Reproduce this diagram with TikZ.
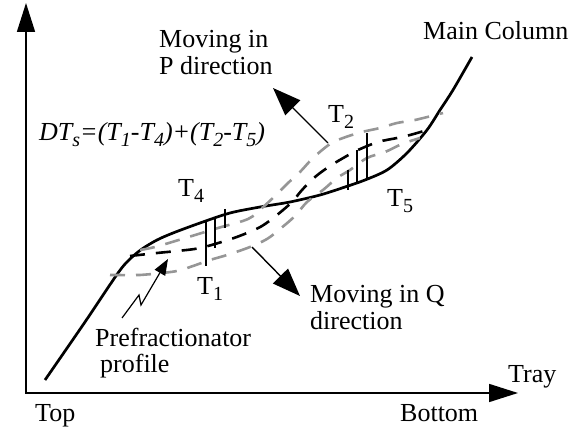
\documentclass[tikz,border=0pt]{standalone}
\usepackage{fontspec}
\setmainfont{Liberation Serif}
\usetikzlibrary{arrows.meta}
\definecolor{grayc}{RGB}{150,150,150}
\newcommand{\mysub}[1]{\raisebox{-6pt}{\fontsize{20}{20}\selectfont #1}}
\begin{document}
\begin{tikzpicture}[x=1pt,y=-1pt,
  lbl/.style={inner sep=0pt, anchor=base west, font=\fontsize{26}{27}\selectfont},
  axisline/.style={line width=1.6pt, {Triangle[length=29pt,width=18pt]}-{Triangle[length=29pt,width=18pt]}},
  mainline/.style={line width=2.7pt, line join=round},
  bdash/.style={line width=2.6pt, dash pattern=on 15pt off 11pt},
  gdash/.style={line width=2.6pt, draw=grayc, dash pattern=on 15pt off 11pt},
  tick/.style={line width=1.4pt},
  movearrow/.style={line width=1.4pt, -{Triangle[length=28pt,width=21pt]}},
  boltarrow/.style={line width=1.2pt, line join=miter, -{Triangle[length=16pt,width=12pt]}}]
\useasboundingbox (0,0) rectangle (574,430);

% axes
\coordinate (ytip) at (26,3);
\coordinate (origin) at (26,393);
\coordinate (xtip) at (518,393);
\draw[axisline] (ytip) -- (origin) -- (xtip);

% main column profile
\draw[mainline] plot[smooth, tension=0.5] coordinates {
 (45,380) (85,322) (118,273) (130,259) (142,249) (157,240) (173,233)
 (200,223) (230,213) (260,207) (290,202) (320,195) (345,187)
 (365,180) (387,170) (407,153) (427,130) (440,110) (453,90) (472,57)};

% prefractionator profile (black dashed)
\draw[bdash] plot[smooth, tension=0.55] coordinates {
 (130,256) (157,253) (177,251) (200,248) (228,240) (247,233) (262,226)
 (277,215) (292,202) (302,190) (315,177) (330,166) (345,157) (358,150)
 (378,142) (397,138) (410,135) (424,131)};

% upper gray dashed (P direction)
\draw[gdash] plot[smooth, tension=0.55] coordinates {
 (140,250) (155,247) (182,239) (218,228) (248,219) (262,208) (275,196)
 (288,183) (300,172) (313,158) (330,144) (343,138) (362,132) (380,128)
 (397,123) (415,120) (443,113)};

% lower gray dashed (Q direction)
\draw[gdash] plot[smooth, tension=0.55] coordinates {
 (110,275) (140,275) (153,274) (177,271) (193,266) (210,260) (227,255)
 (250,247) (267,239) (280,229) (295,216) (307,202) (323,190) (337,178)
 (350,170) (367,158) (385,152) (402,144) (420,138)};

% temperature difference ticks
\draw[tick] (206,220) -- (206,266);
\draw[tick] (215,217) -- (215,248);
\draw[tick] (225,209) -- (225,228);
\draw[tick] (348,170) -- (348,190);
\draw[tick] (357,150) -- (357,182);
\draw[tick] (367,133) -- (367,180);

% direction arrows
\coordinate (pS) at (328,143);
\coordinate (pE) at (273,88);
\draw[movearrow] (pS) -- (pE);
\coordinate (qS) at (252,247);
\coordinate (qE) at (300,296);
\draw[movearrow] (qS) -- (qE);

% lightning arrow to prefractionator profile
\coordinate (b0) at (122,318);
\coordinate (b1) at (139,295);
\coordinate (b2) at (141,305);
\coordinate (b3) at (168,259);
\draw[boltarrow] (b0) -- (b1) -- (b2) -- (b3);

% labels
\node[lbl] (mainc) at (423,40) {Main Column};
\node[lbl] (mp1) at (159,48) {Moving in};
\node[lbl] (mp2) at (159,75) {P direction};
\node[lbl, font=\fontsize{26}{27}\selectfont\itshape] (dts) at (39,141)
  {DT\mysub{s}=(T\mysub{1}-T\mysub{4})+(T\mysub{2}-T\mysub{5})};
\node[lbl] (t4) at (178,197) {T\mysub{4}};
\node[lbl] (t1) at (197,295) {T\mysub{1}};
\node[lbl] (t2) at (328,123) {T\mysub{2}};
\node[lbl] (t5) at (387,207) {T\mysub{5}};
\node[lbl] (pf1) at (95,347) {Prefractionator};
\node[lbl] (pf2) at (100,373) {profile};
\node[lbl] (mq1) at (310,303) {Moving in Q};
\node[lbl] (mq2) at (310,330) {direction};
\node[lbl] (tray) at (508,383) {Tray};
\node[lbl] (bottom) at (400,422) {Bottom};
\node[lbl] (top) at (35,422) {Top};
\end{tikzpicture}
\end{document}
